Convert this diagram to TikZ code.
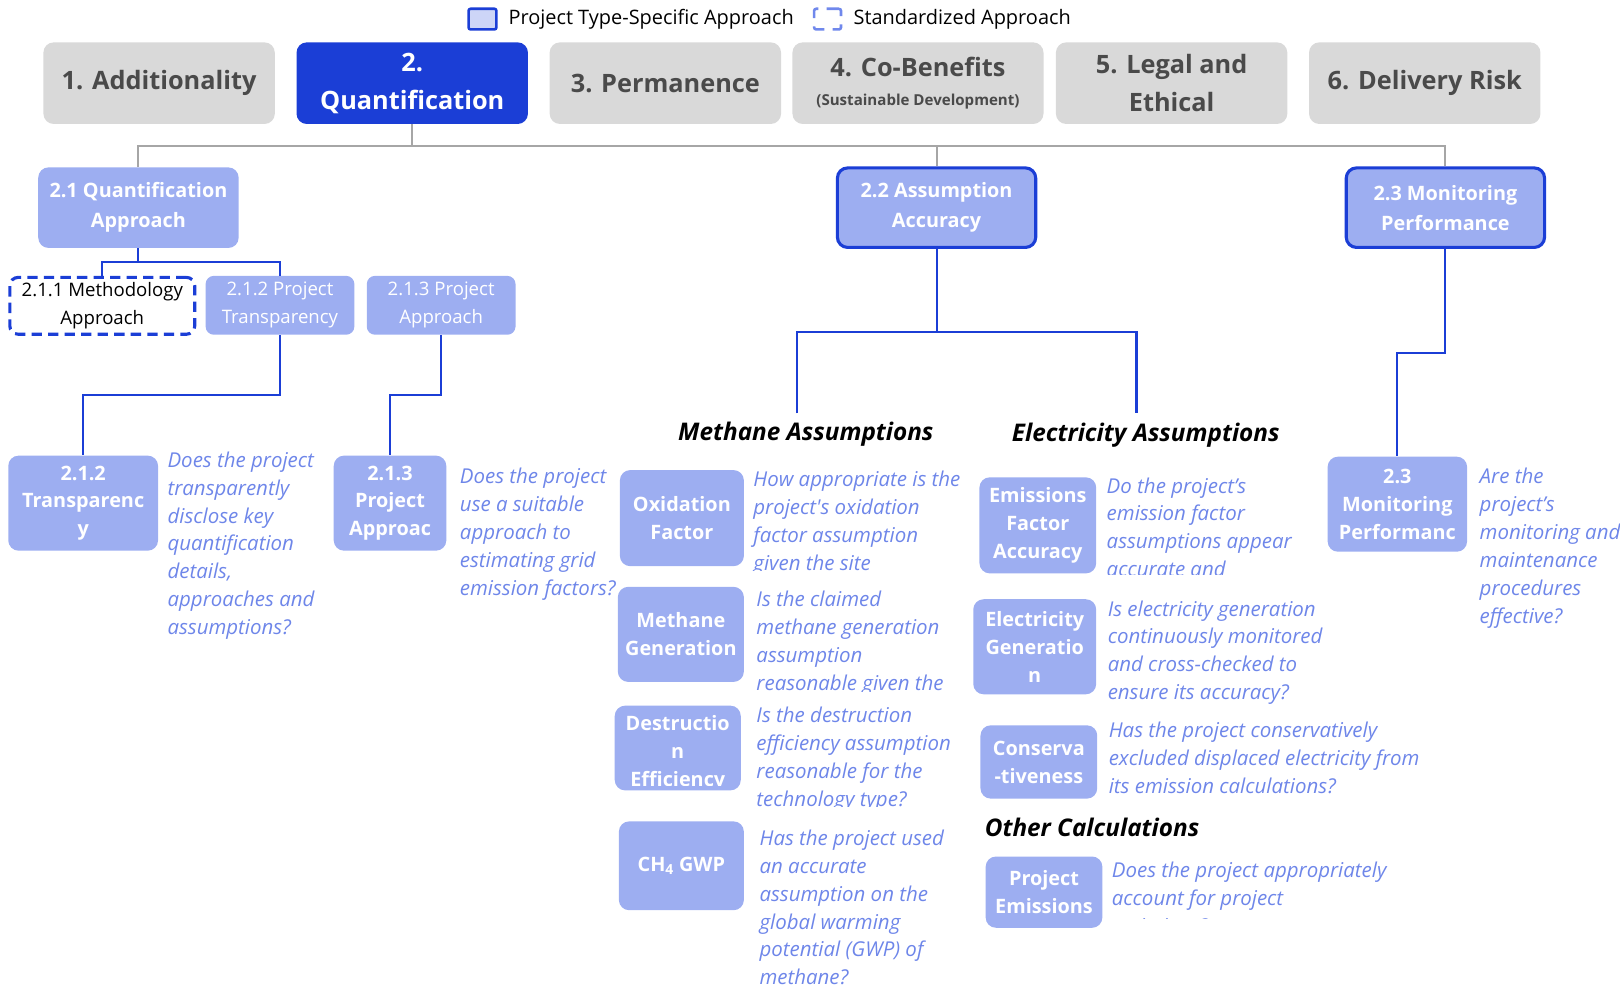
\documentclass[tikz,border=0pt]{standalone}
\usepackage{fontspec}
\setmainfont{Open Sans}
\usetikzlibrary{calc}

\definecolor{qblue}{HTML}{1B3ED6}
\definecolor{boxfill}{HTML}{9DAEF1}
\definecolor{qtext}{HTML}{6E86E9}
\definecolor{hdrfill}{HTML}{D9D9D9}
\definecolor{hdrtext}{HTML}{4A4A4A}
\definecolor{linegray}{HTML}{A6A6A6}
\definecolor{legfill}{HTML}{CDD5F7}
\definecolor{legdash}{HTML}{7088EC}

\begin{document}
\begin{tikzpicture}[x=1pt, y=-1pt,
hdr/.style={rectangle, rounded corners=10pt, fill=hdrfill, text=hdrtext, minimum width=224pt, minimum height=79pt, inner sep=0pt, align=center, font=\bfseries\fontsize{24.5}{37}\selectfont},
topbox/.style={rectangle, rounded corners=10pt, fill=boxfill, text=white, minimum width=194pt, minimum height=78pt, inner sep=0pt, align=center, font=\bfseries\fontsize{19.2}{29}\selectfont},
keybox/.style={topbox, draw=qblue, line width=3pt, minimum width=192pt, minimum height=77pt},
subbox/.style={rectangle, rounded corners=8pt, fill=boxfill, text=white, minimum width=144pt, minimum height=57pt, inner sep=0pt, align=center, font=\fontsize{18}{27}\selectfont},
stdbox/.style={subbox, fill=white, text=black, draw=qblue, line width=3pt, dash pattern=on 10pt off 6pt, minimum width=179pt, minimum height=55pt},
itembox/.style={rectangle, rounded corners=10pt, fill=boxfill, text=white, inner sep=0pt, align=center, font=\bfseries\fontsize{19.2}{27}\selectfont},
question/.style={anchor=north west, inner sep=0pt, align=left, text=qtext, font=\itshape\fontsize{19.8}{27}\selectfont},
grouphead/.style={inner sep=0pt, font=\bfseries\itshape\fontsize{23.5}{27}\selectfont},
legtext/.style={anchor=west, inner sep=0pt, font=\fontsize{19.3}{22}\selectfont},
graylink/.style={draw=linegray, line width=2pt},
bluelink/.style={draw=qblue, line width=2pt}]

	\useasboundingbox (0,0) rectangle (1568,958);

	% legend
	\node (legtype) [rectangle, rounded corners=2pt, draw=qblue, fill=legfill, line width=2.5pt, minimum width=27pt, minimum height=20pt] at (467,18.5) {};
	\node (legtypetxt) [legtext] at (492,19) {Project Type-Specific Approach};
	\node (legstd) [rectangle, rounded corners=2pt, draw=legdash, line width=2.5pt, dash pattern=on 12pt off 8pt, minimum width=26pt, minimum height=20pt] at (801,18.5) {};
	\node (legstdtxt) [legtext] at (826,19) {Standardized Approach};

	% top row
	\node (h1) [hdr] at (154,80.5) {1. Additionality};
	\node (h2) [hdr, fill=qblue, text=white] at (399,80.5) {2.\\Quantification};
	\node (h3) [hdr] at (644,80.5) {3. Permanence};
	\node (h4) [hdr, minimum width=243pt] at (888.5,80.5) {4. Co-Benefits\\[-9pt]{\fontsize{14.6}{17}\selectfont (Sustainable Development)}};
	\node (h5) [hdr] at (1134,80.5) {5. Legal and\\Ethical};
	\node (h6) [hdr] at (1379,80.5) {6. Delivery Risk};

	% second row
	\node (q21) [topbox] at (134,201) {2.1 Quantification\\Approach};
	\node (q22) [keybox] at (906.5,201) {2.2 Assumption\\Accuracy};
	\node (q23) [keybox] at (1399,201) {2.3 Monitoring\\Performance};

	\coordinate (gbus) at (399,141);
	\draw[graylink] (h2.south) -- (gbus);
	\draw[graylink] (q21.north) |- (gbus) -| (q23.north);
	\draw[graylink] (q22.north) -- (q22.north |- gbus);

	% 2.1 branch
	\node (q211) [stdbox] at (99,296) {2.1.1 Methodology\\Approach};
	\node (q212) [subbox] at (271,295.5) {2.1.2 Project\\Transparency};
	\node (q213) [subbox] at (427,295.5) {2.1.3 Project\\Approach};

	\coordinate (qbus) at (134,254);
	\draw[bluelink] (q21.south) -- (qbus);
	\draw[bluelink] (q211.north) |- (qbus) -| (q212.north);

	\node (t212) [itembox, minimum width=145pt, minimum height=92pt] at (80.5,487) {2.1.2\\Transparenc\\y};
	\node (d212) [question] at (162,437) {Does the project\\transparently\\disclose key\\quantification\\details,\\approaches and\\assumptions?};
	\node (t213) [itembox, minimum width=109pt, minimum height=92pt] at (377.5,487) {2.1.3\\Project\\Approac};
	\node (d213) [question] at (445,453) {Does the project\\use a suitable\\approach to\\estimating grid\\emission factors?};

	\draw[bluelink] (q212.south) |- ($(q212.south)!.5!(t212.north)$) -| (t212.north);
	\draw[bluelink] (q213.south) |- ($(q213.south)!.5!(t213.north)$) -| (t213.north);

	% 2.2 branch
	\node (hmeth) [grouphead] at (780,420) {Methane Assumptions};
	\node (helec) [grouphead] at (1109,421) {Electricity Assumptions};
	\coordinate (mtop) at (771,400);
	\coordinate (etop) at (1100,400);
	\coordinate (abus) at (906.5,321);
	\draw[bluelink] (q22.south) -- (abus);
	\draw[bluelink] (mtop) |- (abus) -| (etop);

	\node (mox) [itembox, minimum width=120pt, minimum height=93pt] at (660,501.5) {Oxidation\\Factor};
	\begin{scope}
		\clip (722,440) rectangle (960,552);
		\node (dox) [question] at (729,456) {How appropriate is the\\project\textquotesingle s oxidation\\factor assumption\\given the site};
	\end{scope}
	\node (mgen) [itembox, minimum width=122pt, minimum height=92pt] at (659,614) {Methane\\Generation};
	\begin{scope}
		\clip (725,560) rectangle (960,669);
		\node (dgen) [question] at (732,572) {Is the claimed\\methane generation\\assumption\\reasonable given the};
	\end{scope}
	\node (mdes) [itembox, minimum width=122pt, minimum height=82pt] at (656,724) {};
	\begin{scope}
		\clip (595,683) rectangle (717,760);
		\node (mdeslbl) [itembox, fill=none] at (656,729) {Destructio\\n\\Efficiency};
	\end{scope}
	\begin{scope}
		\clip (725,675) rectangle (960,781);
		\node (ddes) [question] at (732,684) {Is the destruction\\efficiency assumption\\reasonable for the\\technology type?};
	\end{scope}
	\node (mgwp) [itembox, minimum width=121pt, minimum height=86pt] at (659.5,838) {CH\textsubscript{4} GWP};
	\node (dgwp) [question] at (735,803) {Has the project used\\an accurate\\assumption on the\\global warming\\potential (GWP) of\\methane?};

	\node (eef) [itembox, minimum width=113pt, minimum height=93pt] at (1004.5,508.5) {Emissions\\Factor\\Accuracy};
	\begin{scope}
		\clip (1065,450) rectangle (1300,556);
		\node (def) [question] at (1071,462) {Do the project’s\\emission factor\\assumptions appear\\accurate and};
	\end{scope}
	\node (egen) [itembox, minimum width=119pt, minimum height=92pt] at (1001.5,626) {Electricity\\Generatio\\n};
	\node (degen) [question] at (1072,581) {Is electricity generation\\continuously monitored\\and cross-checked to\\ensure its accuracy?};
	\node (econ) [itembox, minimum width=113pt, minimum height=71pt] at (1005.5,737.5) {Conserva\\-tiveness};
	\node (decon) [question] at (1073,699) {Has the project conservatively\\excluded displaced electricity from\\its emission calculations?};

	\node (hother) [grouphead, anchor=west] at (953,801) {Other Calculations};
	\node (oproj) [itembox, minimum width=113pt, minimum height=69pt] at (1010.5,863.5) {Project\\Emissions};
	\begin{scope}
		\clip (1070,825) rectangle (1400,889);
		\node (doproj) [question] at (1076,834) {Does the project appropriately\\account for project\\emissions?};
	\end{scope}

	% 2.3 branch
	\node (t23) [itembox, minimum width=135pt, minimum height=92pt] at (1352.5,488) {2.3\\Monitoring\\Performanc};
	\node (d23) [question] at (1432,453) {Are the\\project’s\\monitoring and\\maintenance\\procedures\\effective?};
	\draw[bluelink] (q23.south) |- ($(q23.south)!.5!(t23.north)$) -| (t23.north);

\end{tikzpicture}
\end{document}
